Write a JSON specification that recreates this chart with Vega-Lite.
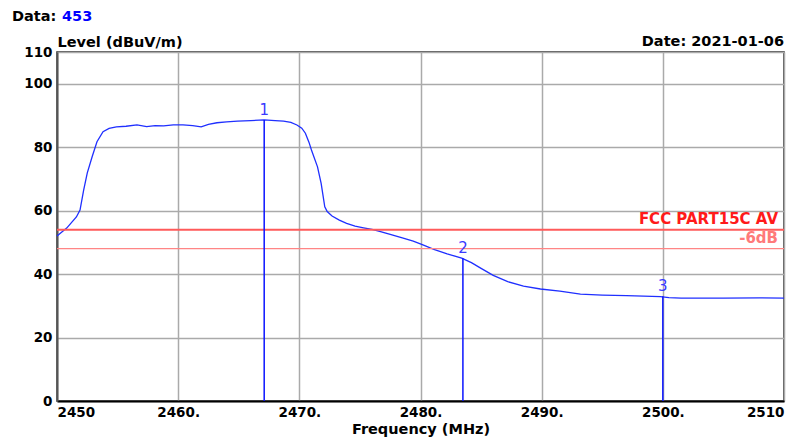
{
  "$schema": "https://vega.github.io/schema/vega-lite/v6.json",
  "width": 727,
  "height": 349,
  "autosize": "none",
  "padding": {"left": 57, "top": 52, "right": 14, "bottom": 42},
  "background": "white",
  "config": {
    "view": {"stroke": "#222", "strokeWidth": 1.5},
    "font": "DejaVu Sans"
  },
  "datasets": {
    "curve": [
      {"freq": 2450.0, "level": 52.0},
      {"freq": 2450.8, "level": 54.5},
      {"freq": 2451.6, "level": 58.0},
      {"freq": 2451.9, "level": 60.2},
      {"freq": 2452.2, "level": 66.5},
      {"freq": 2452.5, "level": 71.9},
      {"freq": 2452.9, "level": 77.0},
      {"freq": 2453.3, "level": 81.7},
      {"freq": 2453.8, "level": 84.9},
      {"freq": 2454.3, "level": 85.9},
      {"freq": 2454.9, "level": 86.4},
      {"freq": 2455.7, "level": 86.6},
      {"freq": 2456.6, "level": 87.0},
      {"freq": 2457.4, "level": 86.5},
      {"freq": 2458.1, "level": 86.8},
      {"freq": 2458.8, "level": 86.7},
      {"freq": 2459.6, "level": 87.0},
      {"freq": 2460.4, "level": 87.0},
      {"freq": 2461.2, "level": 86.8},
      {"freq": 2461.9, "level": 86.4},
      {"freq": 2462.5, "level": 87.2},
      {"freq": 2463.2, "level": 87.7},
      {"freq": 2464.0, "level": 88.0},
      {"freq": 2464.9, "level": 88.2},
      {"freq": 2466.0, "level": 88.4},
      {"freq": 2467.1, "level": 88.6},
      {"freq": 2468.0, "level": 88.4},
      {"freq": 2468.7, "level": 88.2},
      {"freq": 2469.3, "level": 87.8},
      {"freq": 2469.8, "level": 87.0},
      {"freq": 2470.2, "level": 86.0},
      {"freq": 2470.5, "level": 84.4},
      {"freq": 2470.8, "level": 81.5},
      {"freq": 2471.0, "level": 79.1},
      {"freq": 2471.5, "level": 73.8},
      {"freq": 2471.8, "level": 68.6},
      {"freq": 2472.1, "level": 61.2},
      {"freq": 2472.3, "level": 59.7},
      {"freq": 2472.7, "level": 58.3},
      {"freq": 2473.3, "level": 57.0},
      {"freq": 2473.9, "level": 56.0},
      {"freq": 2474.6, "level": 55.1},
      {"freq": 2475.3, "level": 54.6},
      {"freq": 2476.0, "level": 54.1},
      {"freq": 2476.7, "level": 53.4},
      {"freq": 2477.5, "level": 52.5},
      {"freq": 2478.5, "level": 51.4},
      {"freq": 2479.4, "level": 50.4},
      {"freq": 2480.2, "level": 49.2},
      {"freq": 2481.1, "level": 47.8},
      {"freq": 2482.2, "level": 46.4},
      {"freq": 2483.4, "level": 45.0},
      {"freq": 2484.2, "level": 43.6},
      {"freq": 2485.0, "level": 41.8},
      {"freq": 2486.0, "level": 39.6},
      {"freq": 2487.2, "level": 37.6},
      {"freq": 2488.5, "level": 36.2},
      {"freq": 2489.9, "level": 35.3},
      {"freq": 2491.5, "level": 34.6},
      {"freq": 2493.2, "level": 33.7},
      {"freq": 2495.0, "level": 33.4},
      {"freq": 2497.0, "level": 33.2},
      {"freq": 2499.8, "level": 32.9},
      {"freq": 2500.5, "level": 32.6},
      {"freq": 2501.5, "level": 32.4},
      {"freq": 2505.0, "level": 32.4},
      {"freq": 2508.0, "level": 32.5},
      {"freq": 2510.0, "level": 32.4}
    ],
    "markers": [
      {"freq": 2467.1, "level": 88.6, "label": "1"},
      {"freq": 2483.5, "level": 45.0, "label": "2"},
      {"freq": 2500.0, "level": 33.0, "label": "3"}
    ],
    "limits": [
      {"name": "FCC PART15C AV", "level": 54},
      {"name": "-6dB", "level": 48}
    ],
    "header": [
      {"freq": 2450, "level": 110, "date": "Date: 2021-01-06", "key": "Data:", "val": "453"}
    ]
  },
  "layer": [
    {
      "data": {"name": "curve"},
      "mark": {"type": "line", "color": "#1f2fff", "strokeWidth": 1.3},
      "encoding": {
        "x": {"field": "freq", "type": "quantitative", "scale": {"domain": [2450, 2510], "nice": false},
          "axis": {
            "values": [2450, 2460, 2470, 2480, 2490, 2500, 2510],
            "grid": true, "gridColor": "#aaaaaa", "gridWidth": 1.5,
            "ticks": false, "domainColor": "#000", "domainWidth": 2,
            "labelExpr": "(datum.value == 2450 || datum.value == 2510) ? datum.value : datum.value + '.'",
            "labelFlush": true,
            "labelFont": "DejaVu Sans", "labelFontWeight": "bold", "labelFontSize": 13.5, "labelColor": "#000", "labelPadding": 4,
            "title": "Frequency (MHz)", "titleFont": "DejaVu Sans", "titleFontWeight": "bold", "titleFontSize": 14.5, "titleColor": "#000", "titlePadding": 4
          }},
        "y": {"field": "level", "type": "quantitative", "scale": {"domain": [0, 110], "nice": false},
          "axis": {
            "values": [0, 20, 40, 60, 80, 100, 110],
            "grid": true, "gridColor": "#aaaaaa", "gridWidth": 1.5,
            "ticks": false, "domainColor": "#555", "domainWidth": 2,
            "labelFont": "DejaVu Sans", "labelFontWeight": "bold", "labelFontSize": 13.5, "labelColor": "#000",
            "labelPadding": 5,
            "title": "Level (dBuV/m)", "titleAngle": 0, "titleAlign": "left", "titleBaseline": "bottom",
            "titleX": 0, "titleY": -3, "titleFont": "DejaVu Sans", "titleFontWeight": "bold", "titleFontSize": 14.5, "titleColor": "#000"
          }}
      }
    },
    {
      "data": {"name": "limits"},
      "transform": [{"filter": "datum.name == 'FCC PART15C AV'"}],
      "mark": {"type": "rule", "color": "#ff5a5a", "strokeWidth": 2},
      "encoding": {
        "y": {"field": "level", "type": "quantitative"}
      }
    },
    {
      "data": {"name": "limits"},
      "transform": [{"filter": "datum.name == '-6dB'"}],
      "mark": {"type": "rule", "color": "#ff8585", "strokeWidth": 1.3},
      "encoding": {
        "y": {"field": "level", "type": "quantitative"}
      }
    },
    {
      "data": {"name": "limits"},
      "transform": [{"filter": "datum.name == 'FCC PART15C AV'"}],
      "mark": {"type": "text", "align": "right", "baseline": "bottom", "dy": -3, "dx": -6, "color": "#ff1a1a", "font": "DejaVu Sans", "fontWeight": "bold", "fontSize": 15},
      "encoding": {
        "x": {"value": {"expr": "width"}},
        "y": {"field": "level", "type": "quantitative"},
        "text": {"field": "name"}
      }
    },
    {
      "data": {"name": "limits"},
      "transform": [{"filter": "datum.name == '-6dB'"}],
      "mark": {"type": "text", "align": "right", "baseline": "bottom", "dy": -3, "dx": -6, "color": "#ff7a7a", "font": "DejaVu Sans", "fontWeight": "bold", "fontSize": 15},
      "encoding": {
        "x": {"value": {"expr": "width"}},
        "y": {"field": "level", "type": "quantitative"},
        "text": {"field": "name"}
      }
    },
    {
      "data": {"name": "markers"},
      "mark": {"type": "rule", "color": "#0a14ff", "strokeWidth": 1.5},
      "encoding": {
        "x": {"field": "freq", "type": "quantitative"},
        "y": {"field": "level", "type": "quantitative"},
        "y2": {"value": {"expr": "height"}}
      }
    },
    {
      "data": {"name": "markers"},
      "mark": {"type": "text", "baseline": "bottom", "dy": -2, "color": "#3a3aff", "font": "DejaVu Sans", "fontSize": 15},
      "encoding": {
        "x": {"field": "freq", "type": "quantitative"},
        "y": {"field": "level", "type": "quantitative"},
        "text": {"field": "label"}
      }
    },
    {
      "data": {"name": "header"},
      "mark": {"type": "text", "align": "right", "baseline": "bottom", "dy": -3, "color": "#000", "font": "DejaVu Sans", "fontWeight": "bold", "fontSize": 14.5},
      "encoding": {
        "x": {"value": {"expr": "width"}},
        "y": {"field": "level", "type": "quantitative"},
        "text": {"field": "date"}
      }
    },
    {
      "data": {"name": "header"},
      "mark": {"type": "text", "align": "left", "baseline": "alphabetic", "dx": -45, "dy": -31, "color": "#000", "font": "DejaVu Sans", "fontWeight": "bold", "fontSize": 14.5},
      "encoding": {
        "x": {"field": "freq", "type": "quantitative"},
        "y": {"field": "level", "type": "quantitative"},
        "text": {"field": "key"}
      }
    },
    {
      "data": {"name": "header"},
      "mark": {"type": "text", "align": "left", "baseline": "alphabetic", "dx": 5, "dy": -31, "color": "#0000ff", "font": "DejaVu Sans", "fontWeight": "bold", "fontSize": 14.5},
      "encoding": {
        "x": {"field": "freq", "type": "quantitative"},
        "y": {"field": "level", "type": "quantitative"},
        "text": {"field": "val"}
      }
    }
  ]
}
